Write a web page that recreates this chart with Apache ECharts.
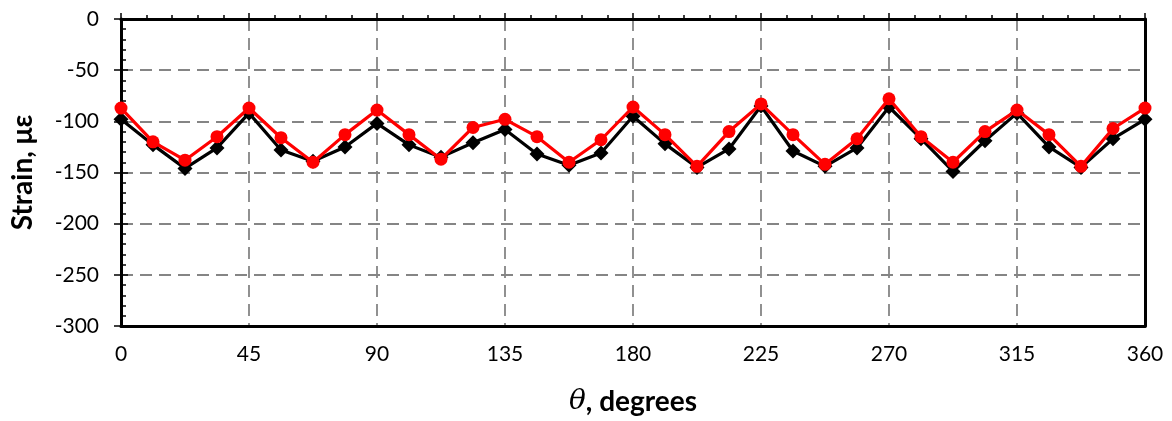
<!DOCTYPE html>
<html>
<head>
<meta charset="utf-8">
<script src="https://cdn.jsdelivr.net/npm/echarts@6/dist/echarts.min.js"></script>
<style>
  html, body { margin: 0; padding: 0; background: #fff; }
  #chart { width: 1172px; height: 421px; }
</style>
</head>
<body>
<div id="chart"></div>
<script>
// Circumferential angle of each gauge, degrees
const angles = [
  0, 11.25, 22.5, 33.75, 45, 56.25, 67.5, 78.75, 90, 101.25, 112.5,
  123.75, 135, 146.25, 157.5, 168.75, 180, 191.25, 202.5, 213.75, 225,
  236.25, 247.5, 258.75, 270, 281.25, 292.5, 303.75, 315, 326.25, 337.5,
  348.75, 360
];

// Measured strain (black diamonds), microstrain
const strainBlack = [
  -98, -123, -146, -126, -92, -128, -139, -125, -102, -123, -135,
  -121, -108, -132, -143, -131, -95, -122, -145, -127, -85,
  -129, -144, -126, -86, -117, -149, -119, -92, -125, -145,
  -117, -98
];

// Second strain series (red circles), microstrain
const strainRed = [
  -87, -120, -138, -115, -87, -116, -140, -113, -89, -113, -137,
  -106, -98, -115, -140, -118, -86, -113, -144, -110, -83,
  -113, -142, -117, -78, -115, -140, -110, -89, -113, -144,
  -107, -87
];

const xTicks = [0, 45, 90, 135, 180, 225, 270, 315, 360];
const yTicks = [0, -50, -100, -150, -200, -250, -300];

const font = 'Lato, "Open Sans", sans-serif';
const black = '#000000';
const red = '#ff0000';
const gridColor = '#858585';

const pair = (xs, ys) => xs.map((x, i) => [x, ys[i]]);

const chart = echarts.init(document.getElementById('chart'), null, { renderer: 'canvas' });

const option = {
  animation: false,
  backgroundColor: '#ffffff',
  grid: { left: 121, right: 27, top: 19, bottom: 93, containLabel: false },
  xAxis: [
    {
      type: 'value',
      position: 'bottom',
      min: xTicks[0],
      max: xTicks[xTicks.length - 1],
      interval: 45,
      axisLine: { show: true, onZero: false, lineStyle: { color: black, width: 3 } },
      axisTick: { show: false },
      axisLabel: { color: black, fontFamily: font, fontSize: 21, margin: 18 },
      splitLine: { show: true, lineStyle: { color: gridColor, width: 1.8, type: [12, 7] } },
      name: '{i|θ}{b|, degrees}',
      nameLocation: 'middle',
      nameGap: 62,
      nameTextStyle: {
        rich: {
          i: { fontFamily: '"DejaVu Serif", serif', fontStyle: 'italic', fontSize: 28, color: black },
          b: { fontFamily: font, fontWeight: 'bold', fontSize: 28, color: black }
        }
      }
    },
    {
      type: 'value',
      position: 'top',
      min: xTicks[0],
      max: xTicks[xTicks.length - 1],
      interval: 45,
      axisLine: { show: true, onZero: false, lineStyle: { color: black, width: 3 } },
      axisTick: { show: true, length: 6, lineStyle: { color: black, width: 1.5 } },
      minorTick: { show: true, splitNumber: 5, length: 4, lineStyle: { color: black, width: 1.5 } },
      axisLabel: { show: false },
      splitLine: { show: false }
    }
  ],
  yAxis: [
    {
      type: 'value',
      position: 'left',
      min: yTicks[yTicks.length - 1],
      max: yTicks[0],
      interval: 50,
      axisLine: { show: true, onZero: false, lineStyle: { color: black, width: 3 } },
      axisTick: { show: true, length: 7, lineStyle: { color: black, width: 1.5 } },
      axisLabel: { color: black, fontFamily: font, fontSize: 21, margin: 22 },
      splitLine: { show: true, lineStyle: { color: gridColor, width: 1.8, type: [12, 7] } },
      name: 'Strain, με',
      nameLocation: 'middle',
      nameGap: 84,
      nameTextStyle: { fontFamily: font, fontWeight: 'bold', fontSize: 28, color: black }
    },
    {
      type: 'value',
      position: 'left',
      min: yTicks[yTicks.length - 1],
      max: yTicks[0],
      interval: 50,
      axisLine: { show: false },
      axisTick: { show: true, inside: true, length: 7, lineStyle: { color: black, width: 1.5 } },
      minorTick: { show: true, splitNumber: 5, length: 5, lineStyle: { color: black, width: 1.5 } },
      axisLabel: { show: false },
      splitLine: { show: false }
    },
    {
      type: 'value',
      position: 'right',
      min: yTicks[yTicks.length - 1],
      max: yTicks[0],
      interval: 50,
      axisLine: { show: true, onZero: false, lineStyle: { color: black, width: 3 } },
      axisTick: { show: false },
      axisLabel: { show: false },
      splitLine: { show: false }
    }
  ],
  series: [
    {
      type: 'line',
      xAxisIndex: 0,
      yAxisIndex: 0,
      data: pair(angles, strainBlack),
      symbol: 'diamond',
      symbolSize: 15,
      itemStyle: { color: black },
      lineStyle: { color: black, width: 3.2 },
      z: 3
    },
    {
      type: 'line',
      xAxisIndex: 0,
      yAxisIndex: 0,
      data: pair(angles, strainRed),
      symbol: 'circle',
      symbolSize: 13,
      itemStyle: { color: red },
      lineStyle: { color: red, width: 3.2 },
      z: 4
    }
  ]
};

chart.setOption(option);
</script>
</body>
</html>
